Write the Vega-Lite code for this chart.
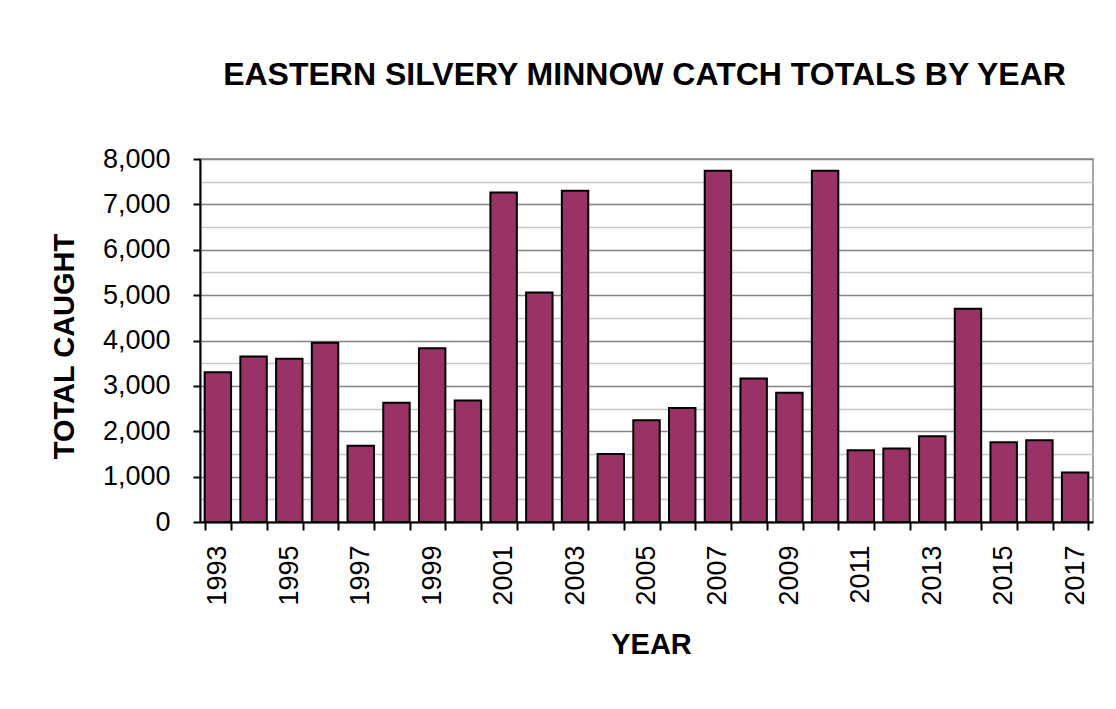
{
  "$schema": "https://vega.github.io/schema/vega-lite/v6.json",
  "width": 893,
  "height": 363,
  "autosize": {"type": "none"},
  "padding": {"left": 200, "top": 159, "right": 23, "bottom": 187},
  "background": "white",
  "title": {
    "text": "EASTERN SILVERY MINNOW CATCH TOTALS BY YEAR",
    "font": "Liberation Sans",
    "fontSize": 32,
    "fontWeight": "bold",
    "color": "black",
    "frame": "group",
    "anchor": "middle",
    "dx": -2,
    "offset": 53
  },
  "config": {
    "view": {"stroke": "#888888", "strokeWidth": 1.5},
    "axis": {
      "labelFont": "Liberation Sans",
      "labelColor": "black",
      "titleFont": "Liberation Sans",
      "titleColor": "black",
      "titleFontWeight": "bold",
      "domainColor": "black",
      "tickColor": "black"
    }
  },
  "data": {
    "values": [
      {"year": 1993, "caught": 3300},
      {"year": 1994, "caught": 3650},
      {"year": 1995, "caught": 3600},
      {"year": 1996, "caught": 3950},
      {"year": 1997, "caught": 1680},
      {"year": 1998, "caught": 2630},
      {"year": 1999, "caught": 3830},
      {"year": 2000, "caught": 2680},
      {"year": 2001, "caught": 7260},
      {"year": 2002, "caught": 5060},
      {"year": 2003, "caught": 7300},
      {"year": 2004, "caught": 1500},
      {"year": 2005, "caught": 2240},
      {"year": 2006, "caught": 2510},
      {"year": 2007, "caught": 7740},
      {"year": 2008, "caught": 3160},
      {"year": 2009, "caught": 2850},
      {"year": 2010, "caught": 7740},
      {"year": 2011, "caught": 1580},
      {"year": 2012, "caught": 1620},
      {"year": 2013, "caught": 1890},
      {"year": 2014, "caught": 4700},
      {"year": 2015, "caught": 1760},
      {"year": 2016, "caught": 1800},
      {"year": 2017, "caught": 1090}
    ]
  },
  "mark": {"type": "bar", "color": "#993366", "stroke": "black", "strokeWidth": 2},
  "encoding": {
    "x": {
      "field": "year",
      "type": "ordinal",
      "scale": {"paddingInner": 0.26, "paddingOuter": 0.13},
      "axis": {
        "tickBand": "extent",
        "labelAngle": -90,
        "labelExpr": "datum.value % 2 === 1 ? datum.label : ''",
        "labelFontSize": 27,
        "labelPadding": 15,
        "tickSize": 8,
        "tickWidth": 2,
        "domainWidth": 2,
        "title": "YEAR",
        "titleFontSize": 29,
        "titleX": 451,
        "titleY": 122,
        "titleAlign": "center",
        "titleBaseline": "middle"
      }
    },
    "y": {
      "field": "caught",
      "type": "quantitative",
      "scale": {"domain": [0, 8000], "nice": false},
      "axis": {
        "values": [0, 500, 1000, 1500, 2000, 2500, 3000, 3500, 4000, 4500, 5000, 5500, 6000, 6500, 7000, 7500, 8000],
        "labelExpr": "datum.value % 1000 === 0 ? format(datum.value, ',') : ''",
        "labelFontSize": 27,
        "labelPadding": 23,
        "tickSize": 7,
        "tickWidth": 2,
        "tickOpacity": {"condition": {"test": "datum.value % 1000 === 0", "value": 1}, "value": 0},
        "domainWidth": 2,
        "grid": true,
        "gridColor": {"condition": {"test": "datum.value % 1000 === 0", "value": "#858585"}, "value": "#c6c6c6"},
        "gridWidth": 1.5,
        "title": "TOTAL CAUGHT",
        "titleFontSize": 29,
        "titleX": -136,
        "titleY": 187,
        "titleAngle": -90,
        "titleAlign": "center",
        "titleBaseline": "middle"
      }
    }
  }
}
